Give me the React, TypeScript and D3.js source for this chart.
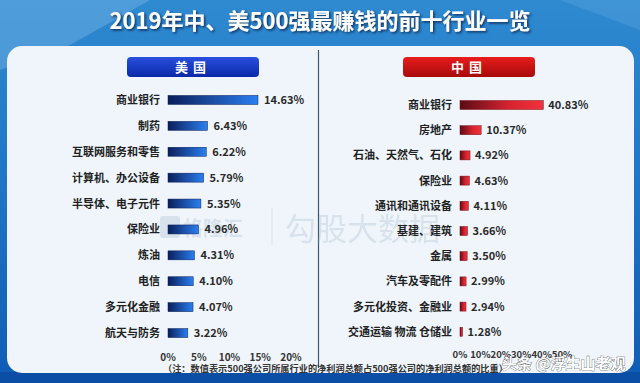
import React from "react";
import * as d3 from "d3";

const usCats = ["商业银行", "制药", "互联网服务和零售", "计算机、办公设备", "半导体、电子元件", "保险业", "炼油", "电信", "多元化金融", "航天与防务"];
const usVals = [14.63, 6.43, 6.22, 5.79, 5.35, 4.96, 4.31, 4.10, 4.07, 3.22];
const usTicks = [0, 5, 10, 15, 20];

const cnCats = ["商业银行", "房地产", "石油、天然气、石化", "保险业", "通讯和通讯设备", "基建、建筑", "金属", "汽车及零配件", "多元化投资、金融业", "交通运输 物流 仓储业"];
const cnVals = [40.83, 10.37, 4.92, 4.63, 4.11, 3.66, 3.50, 2.99, 2.94, 1.28];
const cnTicks = [0, 10, 20, 30, 40, 50];

const W = 640, H = 383;
const FONT = "'Noto Sans CJK SC', 'Noto Sans', sans-serif";

export default function App() {
  const usX = d3.scaleLinear().domain([0, 20]).range([168, 291]);
  const usY = d3.scaleBand<string>().domain(usCats).range([87, 346]);
  const cnX = d3.scaleLinear().domain([0, 50]).range([460, 562]);
  const cnY = d3.scaleBand<string>().domain(cnCats).range([92.4, 344.4]);
  const barH = 9;

  return (
    <svg width={W} height={H} style={{ position: "absolute", left: 0, top: 0 }} fontFamily={FONT}>
      <defs>
        <linearGradient id="bg" x1="0" y1="0" x2="0" y2="1">
          <stop offset="0" stopColor="#2f8ad0" />
          <stop offset="0.5" stopColor="#1f74c6" />
          <stop offset="1" stopColor="#0f5cb4" />
        </linearGradient>
        <linearGradient id="usBar" x1="0" y1="0" x2="1" y2="0">
          <stop offset="0" stopColor="#0a1e5a" />
          <stop offset="1" stopColor="#2a7ff0" />
        </linearGradient>
        <linearGradient id="cnBar" x1="0" y1="0" x2="1" y2="0">
          <stop offset="0" stopColor="#5a0c14" />
          <stop offset="0.6" stopColor="#d82430" />
          <stop offset="1" stopColor="#f0323c" />
        </linearGradient>
        <linearGradient id="usBtn" x1="0" y1="0" x2="0" y2="1">
          <stop offset="0" stopColor="#2a50e0" />
          <stop offset="1" stopColor="#0a28a8" />
        </linearGradient>
        <linearGradient id="cnBtn" x1="0" y1="0" x2="0" y2="1">
          <stop offset="0" stopColor="#e81c1c" />
          <stop offset="1" stopColor="#a80a0a" />
        </linearGradient>
        <filter id="tshadow" x="-10%" y="-30%" width="120%" height="160%">
          <feDropShadow dx="1.5" dy="1.5" stdDeviation="1" floodColor="#0a2a55" floodOpacity="0.9" />
        </filter>
      </defs>
      <rect x={0} y={0} width={W} height={H} fill="url(#bg)" />
      <polygon points="0,0 150,0 70,45 0,70" fill="#6fb0e4" opacity={0.5} />
      <polygon points="560,0 640,0 640,30" fill="#5aa4de" opacity={0.4} />
      <rect x={0} y={372} width={W} height={11} fill="#0a4ea6" />

      <text x={320} y={29} textAnchor="middle" fontSize={22} fontWeight={700} fill="#ffffff" filter="url(#tshadow)">
        2019年中、美500强最赚钱的前十行业一览
      </text>

      <rect x={7} y={46} width={627} height={327} rx={15} ry={15} fill="#eff5fb" />
      <line x1={318.5} x2={318.5} y1={50} y2={368} stroke="#3d5875" strokeWidth={1.2} />

      <rect x={127} y={57} width={132} height={20} rx={4} fill="url(#usBtn)" />
      <text x={193} y={72} textAnchor="middle" fontSize={13} fontWeight={700} fill="#fff" letterSpacing={5}>美国</text>
      <rect x={403} y={57} width={132} height={20} rx={4} fill="url(#cnBtn)" />
      <text x={469} y={72} textAnchor="middle" fontSize={13} fontWeight={700} fill="#fff" letterSpacing={5}>中国</text>

      {/* watermark */}
      <g opacity={0.22} fill="#8aa0b8">
        <rect x={160} y={216} width={20} height={22} rx={3} />
        <text x={183} y={236} fontSize={20} fontWeight={700}>格隆汇</text>
        <line x1={272} x2={272} y1={208} y2={245} stroke="#8aa0b8" strokeWidth={1} />
        <text x={285} y={240} fontSize={31} fontWeight={400}>勾股大数据</text>
      </g>

      {/* US */}
      {usCats.map((c, i) => {
        const y = (usY(c) as number) + usY.bandwidth() / 2;
        return (
          <g key={c}>
            <text x={160} y={y + 4} textAnchor="end" fontSize={11} fontWeight={700} fill="#222">{c}</text>
            <rect x={usX(0)} y={y - barH / 2} width={usX(usVals[i]) - usX(0)} height={barH} fill="url(#usBar)" stroke="#0a1e5a" strokeWidth={0.5} />
            <text x={usX(usVals[i]) + 6} y={y + 4} fontSize={11} fontWeight={700} fill="#2a2a2a">{usVals[i].toFixed(2)}%</text>
          </g>
        );
      })}
      {usTicks.map(t => (
        <text key={t} x={usX(t)} y={361} textAnchor="middle" fontSize={10} fontWeight={700} fill="#333">{t}%</text>
      ))}

      {/* China */}
      {cnCats.map((c, i) => {
        const y = (cnY(c) as number) + cnY.bandwidth() / 2;
        return (
          <g key={c}>
            <text x={452} y={y + 4} textAnchor="end" fontSize={11} fontWeight={700} fill="#222">{c}</text>
            <rect x={cnX(0)} y={y - barH / 2} width={cnX(cnVals[i]) - cnX(0)} height={barH} fill="url(#cnBar)" stroke="#7a1018" strokeWidth={0.5} />
            <text x={cnX(cnVals[i]) + 5} y={y + 4} fontSize={11} fontWeight={700} fill="#2a2a2a">{cnVals[i].toFixed(2)}%</text>
          </g>
        );
      })}
      {cnTicks.map(t => (
        <text key={t} x={cnX(t)} y={358} textAnchor="middle" fontSize={9.5} fontWeight={700} fill="#333">{t}%</text>
      ))}

      <text x={163} y={371.5} fontSize={9.2} fontWeight={700} fill="#333">（注：数值表示500强公司所属行业的净利润总额占500强公司的净利润总额的比重）</text>

      <text x={502} y={369} fontSize={15} fontWeight={700} fill="#ffffff" stroke="#333" strokeWidth={0.6} paintOrder="stroke">头条 @浮生山老观</text>
    </svg>
  );
}
